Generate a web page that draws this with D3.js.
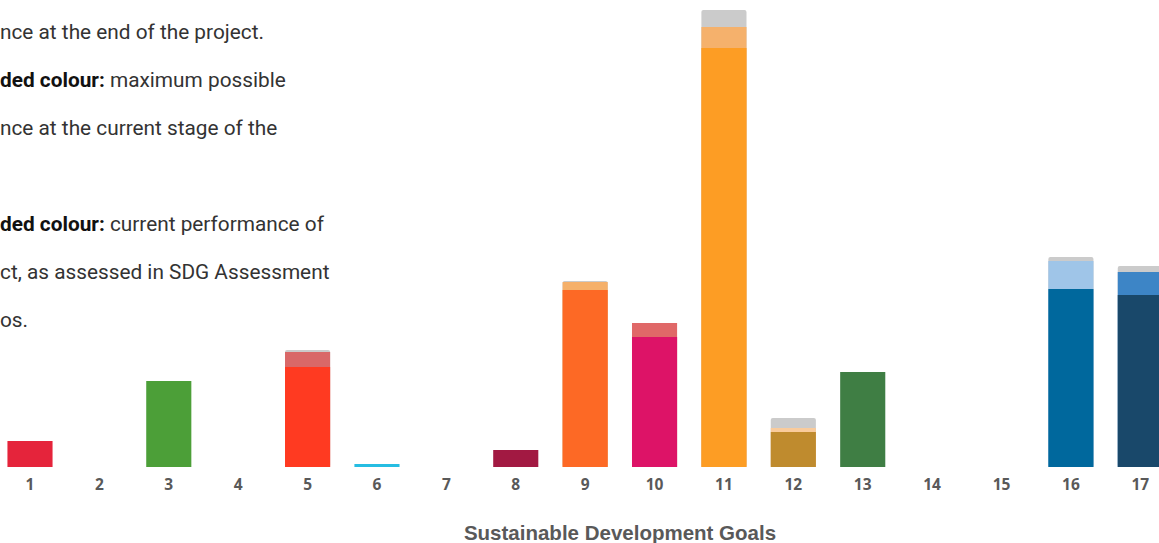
<!DOCTYPE html>
<html>
<head>
<meta charset="utf-8">
<script src="https://cdn.jsdelivr.net/npm/d3@7"></script>
<style>
  body { margin: 0; background: #fff; overflow: hidden; }
  svg { display: block; }
</style>
</head>
<body>
<script>
// goals on the x axis
const goals = ["1","2","3","4","5","6","7","8","9","10","11","12","13","14","15","16","17"];
// current performance (solid colour)
const current = [2.6,0,8.6,0,10.0,0.3,0,1.7,17.7,13.0,41.9,3.5,9.5,0,0,17.8,17.2];
// extra up to max possible at current stage (medium shade)
const possible = [0,0,0,0,1.5,0,0,0,0.8,1.4,2.1,0.4,0,0,0,2.8,2.3];
// extra up to performance at end of project (grey)
const potential = [0,0,0,0,0.2,0,0,0,0.1,0,1.7,1.0,0,0,0,0.4,0.6];

const solidColours = ["#e5243b","#dda63a","#4c9f38","#c5192d","#ff3a21","#26bde2","#fcc30b","#a21942","#fd6925","#dd1367","#fd9d24","#bf8b2e","#3f7e44","#0a97d9","#56c02b","#00689d","#19486a"];
const lightColours = ["#ef8a96","#eecb86","#93c583","#dc7782","#d96868","#8ed9ef","#fde080","#c97c94","#f5b06a","#e06868","#f5b16c","#f9cb9c","#8db290","#7cc5ea","#a3db8b","#9fc5e8","#3d85c6"];

const width = 1159, height = 543;
const baseY = 467;

const svg = d3.select("body").append("svg")
  .attr("width", width)
  .attr("height", height);

const x = d3.scaleBand()
  .domain(goals)
  .range([-4.7, 1175])
  .paddingInner(0.35)
  .paddingOuter(0.175);

const y = d3.scaleLinear()
  .domain([0, 45.7])
  .range([baseY, 10]);

const rows = goals.map((g, i) => ({
  goal: g, i: i,
  c: current[i], p: possible[i], t: potential[i]
}));

// grey (full potential) drawn first, behind
svg.append("g").selectAll("rect")
  .data(rows.filter(d => d.t > 0))
  .join("rect")
  .attr("x", d => x(d.goal))
  .attr("width", x.bandwidth())
  .attr("y", d => y(d.c + d.p + d.t))
  .attr("height", d => baseY - y(d.c + d.p + d.t))
  .attr("rx", 2)
  .attr("fill", "#cbcbcb");

svg.append("g").selectAll("rect")
  .data(rows.filter(d => d.p > 0))
  .join("rect")
  .attr("x", d => x(d.goal))
  .attr("width", x.bandwidth())
  .attr("y", d => y(d.c + d.p))
  .attr("height", d => baseY - y(d.c + d.p))
  .attr("fill", d => lightColours[d.i]);

svg.append("g").selectAll("rect")
  .data(rows.filter(d => d.c > 0))
  .join("rect")
  .attr("x", d => x(d.goal))
  .attr("width", x.bandwidth())
  .attr("y", d => y(d.c))
  .attr("height", d => y(0) - y(d.c))
  .attr("fill", d => solidColours[d.i]);

// x axis labels
const xAxis = svg.append("g")
  .attr("transform", `translate(0,${baseY})`)
  .call(d3.axisBottom(x).tickSize(0).tickPadding(12));
xAxis.select(".domain").remove();
xAxis.selectAll("text")
  .attr("font-family", "'Open Sans', sans-serif")
  .attr("font-weight", 700)
  .attr("font-size", "15.5px")
  .attr("fill", "#595959");

svg.append("text")
  .attr("x", 620)
  .attr("y", 540)
  .attr("text-anchor", "middle")
  .attr("font-family", "'Liberation Sans', Arial, sans-serif")
  .attr("font-weight", 700)
  .attr("font-size", "20.5px")
  .attr("fill", "#595959")
  .text("Sustainable Development Goals");

// explanatory text, cut off on the left
const notes = [
  [["", "nce at the end of the project."]],
  [["ded colour:", " maximum possible"]],
  [["", "nce at the current stage of the"]],
  [["", ""]],
  [["ded colour:", " current performance of"]],
  [["", "ct, as assessed in SDG Assessment"]],
  [["", "os."]]
];
const noteG = svg.append("g")
  .attr("font-family", "Roboto, sans-serif")
  .attr("font-size", "20.8px")
  .attr("fill", "#333");
notes.forEach((line, k) => {
  const t = noteG.append("text").attr("x", 0).attr("y", 39 + k * 48);
  line.forEach(([b, r]) => {
    if (b) t.append("tspan").attr("font-weight", 700).attr("fill", "#111").text(b);
    if (r) t.append("tspan").text(r);
  });
});
</script>
</body>
</html>
